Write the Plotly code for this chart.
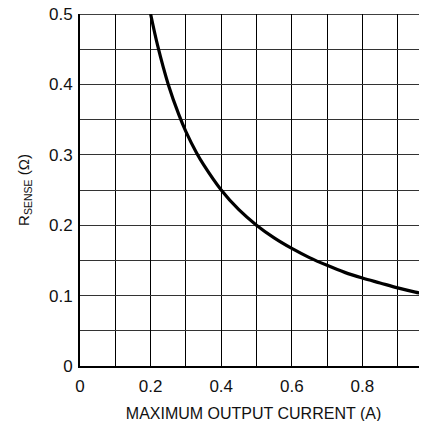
import plotly.graph_objects as go

current_a = [0.2, 0.22, 0.25, 0.28, 0.3, 0.33, 0.35, 0.4, 0.45, 0.5, 0.55, 0.6, 0.65, 0.7, 0.75, 0.8, 0.85, 0.9, 0.95, 1.0]
rsense_ohm = [0.5, 0.455, 0.4, 0.357, 0.333, 0.303, 0.286, 0.25, 0.222, 0.2, 0.182, 0.167, 0.154, 0.143, 0.133, 0.125, 0.118, 0.111, 0.105, 0.1]

x_ticks = [0, 0.2, 0.4, 0.6, 0.8]
x_tick_labels = ["0", "0.2", "0.4", "0.6", "0.8"]
y_ticks = [0, 0.1, 0.2, 0.3, 0.4, 0.5]
y_tick_labels = ["0", "0.1", "0.2", "0.3", "0.4", "0.5"]

FONT = "Liberation Sans, Arial, sans-serif"

fig = go.Figure()
fig.add_trace(go.Scatter(x=current_a, y=rsense_ohm, mode="lines",
                         line=dict(color="black", width=3.2, shape="spline"),
                         hoverinfo="skip", showlegend=False, cliponaxis=True))

fig.update_layout(
    width=427, height=421,
    margin=dict(l=72, r=8, t=6, b=63),
    plot_bgcolor="white", paper_bgcolor="white",
    font=dict(family=FONT, size=17, color="#111"),
)
fig.update_xaxes(
    range=[0, 0.983], tickvals=x_ticks, ticktext=x_tick_labels,
    tickfont=dict(size=17), ticklabeloverflow="allow", ticklabelstandoff=4,
    automargin="bottom",
    showgrid=True, gridcolor="black", gridwidth=1,
    minor=dict(dtick=0.1, tick0=0, showgrid=True, gridcolor="black", gridwidth=1),
    showline=True, linecolor="black", linewidth=2, mirror=False,
    ticks="", zeroline=False,
    title=dict(text="MAXIMUM OUTPUT CURRENT (A)", standoff=12, font=dict(size=16)),
)
fig.update_yaxes(
    range=[0, 0.5], tickvals=y_ticks, ticktext=y_tick_labels,
    tickfont=dict(size=17), ticklabeloverflow="allow", ticklabelstandoff=2,
    automargin="left",
    showgrid=True, gridcolor="#333", gridwidth=1,
    minor=dict(dtick=0.05, tick0=0, showgrid=True, gridcolor="#333", gridwidth=1),
    showline=True, linecolor="black", linewidth=2, mirror=False,
    ticks="", zeroline=False,
    title=dict(text="R<sub>SENSE</sub> (Ω)", standoff=16, font=dict(size=15)),
)
fig.add_shape(type="line", xref="paper", yref="y", x0=0, x1=1, y0=0.5, y1=0.5,
              line=dict(color="black", width=1.5), layer="above")

fig.write_html("out.html")
